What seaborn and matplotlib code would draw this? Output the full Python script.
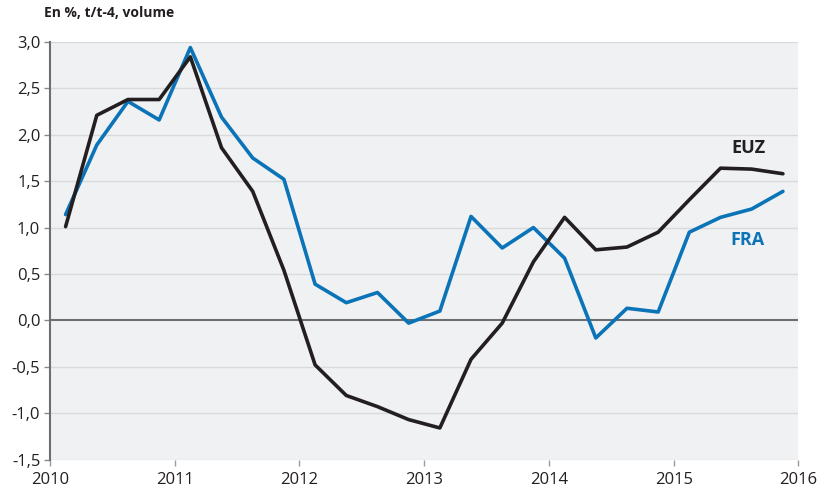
import numpy as np
import pandas as pd
import matplotlib
matplotlib.use("Agg")
import matplotlib.pyplot as plt
import seaborn as sns

quarters = [2010.125 + 0.25 * k for k in range(24)]
euz = [1.01, 2.21, 2.38, 2.38, 2.84, 1.86, 1.39, 0.54,
       -0.48, -0.81, -0.93, -1.07, -1.16, -0.42, -0.03, 0.63,
       1.11, 0.76, 0.79, 0.95, 1.30, 1.64, 1.63, 1.58]
fra = [1.14, 1.89, 2.36, 2.16, 2.94, 2.19, 1.75, 1.52,
       0.39, 0.19, 0.30, -0.03, 0.10, 1.12, 0.78, 1.00,
       0.67, -0.19, 0.13, 0.09, 0.95, 1.11, 1.20, 1.39]
yticks = [-1.5, -1.0, -0.5, 0.0, 0.5, 1.0, 1.5, 2.0, 2.5, 3.0]
xticks = [2010, 2011, 2012, 2013, 2014, 2015, 2016]
title = "En %, t/t-4, volume"

df = pd.DataFrame({
    "date": quarters * 2,
    "value": euz + fra,
    "serie": ["EUZ"] * len(euz) + ["FRA"] * len(fra),
})

sns.set_theme(style="white")
plt.rcParams["font.family"] = ["Open Sans", "DejaVu Sans"]

BLACK = "#231f20"
BLUE = "#0b73b7"
fig = plt.figure(figsize=(8.26, 4.91), dpi=100)
ax = fig.add_axes([50 / 826, 1 - 459.5 / 491, 748.5 / 826, 417.5 / 491])
ax.set_facecolor("#f0f1f3")

for y in yticks:
    if y == 0:
        continue
    ax.axhline(y, color="#d9dadc", lw=1.0, zorder=1)
ax.axhline(0, color="#6d6e70", lw=1.5, zorder=2)

sns.lineplot(data=df, x="date", y="value", hue="serie",
             palette={"EUZ": BLACK, "FRA": BLUE}, hue_order=["FRA", "EUZ"],
             linewidth=2.6, legend=False, ax=ax, zorder=3)

ax.set_xlim(2010, 2016)
ax.set_ylim(-1.5, 3.0)
ax.set_yticks(yticks)
ax.set_yticklabels([f"{v:.1f}".replace(".", ",") for v in yticks])
ax.set_xticks(xticks)
ax.set_xticklabels([str(v) for v in xticks])
ax.set_xlabel("")
ax.set_ylabel("")

for s in ["top", "right", "bottom"]:
    ax.spines[s].set_visible(False)
ax.spines["left"].set_color("#6d6e70")
ax.spines["left"].set_linewidth(1.5)

ax.tick_params(axis="y", length=4, width=1, color="#8a8b8d", labelsize=12,
               labelcolor="#231f20", pad=3, left=True)
ax.tick_params(axis="x", length=4, width=1, color="#9a9b9d", labelsize=12,
               labelcolor="#231f20", pad=5, bottom=True)

fig.text(44 / 826, 1 - 13 / 491, title, fontsize=10, fontweight="bold",
         color="#231f20", ha="left", va="center")
ax.text(2015.595, 1.853, "EUZ", fontsize=13, fontweight="bold", color=BLACK,
        ha="center", va="center")
ax.text(2015.59, 0.862, "FRA", fontsize=13, fontweight="bold", color=BLUE,
        ha="center", va="center")

fig.savefig("out.png", dpi=100)
